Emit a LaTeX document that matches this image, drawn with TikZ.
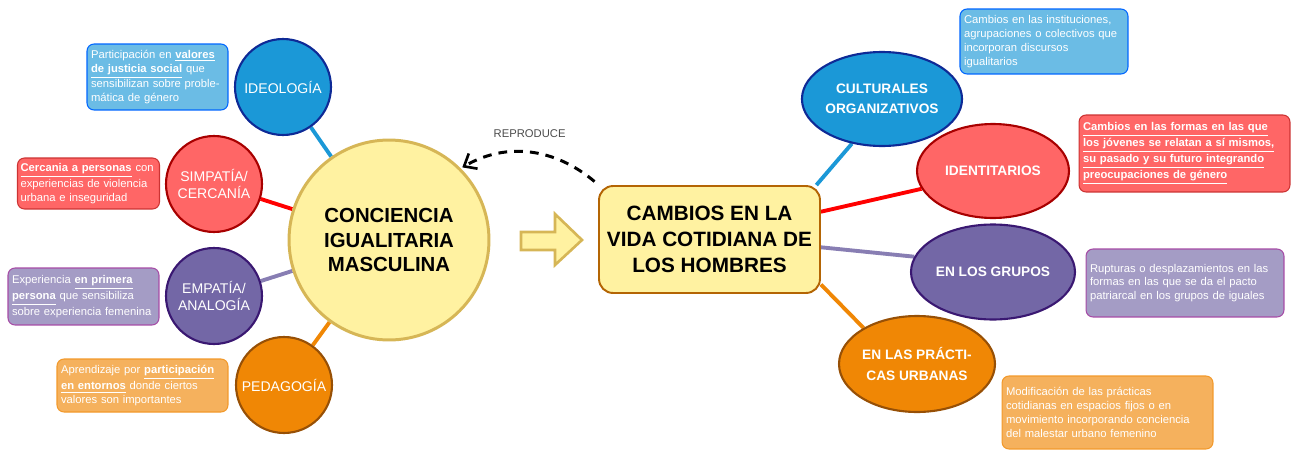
\documentclass[tikz,border=0pt]{standalone}
\usepackage{fontspec}
\setmainfont{Liberation Sans}
\usepackage{tikz}
\usetikzlibrary{positioning, shapes.geometric, arrows.meta, backgrounds}
\definecolor{azul}{HTML}{1B98D7}
\definecolor{azulborde}{HTML}{0E2A96}
\definecolor{rojo}{HTML}{FF6666}
\definecolor{rojoborde}{HTML}{A80000}
\definecolor{morado}{HTML}{7367A6}
\definecolor{moradoborde}{HTML}{3A1872}
\definecolor{naranja}{HTML}{F08705}
\definecolor{naranjaborde}{HTML}{975006}
\definecolor{amarillo}{HTML}{FFF2A1}
\definecolor{amarilloborde}{HTML}{D6B656}
\definecolor{cafe}{HTML}{B46504}
\newcommand{\resalta}[1]{\underline{\textbf{#1}}}
\tikzset{
    base/.style={draw, align=center, inner sep=0pt},
    topic/.style={base, circle, line width=1.2pt, minimum size=1.92cm, text=white, font=\fontsize{8}{9.5}\selectfont},
    blob/.style={base, ellipse, line width=1.2pt, text=white, font=\fontsize{7.8}{11.6}\selectfont\bfseries},
    note/.style={draw, rectangle, rounded corners=4pt, line width=0.6pt, align=left, text=white, inner xsep=0.08cm, inner ysep=0pt, font=\fontsize{6.4}{7.9}\selectfont},
    link/.style={line width=2.2pt},
    dashedarrow/.style={-{Straight Barb[length=6pt, width=10pt, line width=1.5pt]}, line width=1.7pt, dash pattern=on 5pt off 4pt}
}
\begin{document}
\begin{tikzpicture}[x=0.02cm, y=-0.02cm]
    \useasboundingbox (0,0) rectangle (1292,450);

    % Central idea
    \node [base, circle, line width=1.7pt, fill=amarillo, draw=amarilloborde, minimum size=4cm, font=\fontsize{11.6}{14.2}\selectfont\bfseries] (conciencia) at (389,240) {CONCIENCIA\\IGUALITARIA\\MASCULINA};

    % Left circles
    \node [topic, fill=azul, draw=azulborde] (ideo) at (283,87) {IDEOLOGÍA};
    \node [topic, fill=rojo, draw=rojoborde] (simp) at (214,184) {SIMPATÍA/\\CERCANÍA};
    \node [topic, fill=morado, draw=moradoborde] (empa) at (214,296) {EMPATÍA/\\ANALOGÍA};
    \node [topic, fill=naranja, draw=naranjaborde] (peda) at (284,385) {PEDAGOGÍA};

    % Left notes
    \node [note, fill=azul!65, draw=blue!60!cyan, text width=2.66cm, minimum height=1.32cm] (nideo) at (157.5,77) {Participación en \resalta{valores}\\\resalta{de justicia social} que\\sensibilizan sobre proble-\\mática de género};
    \node [note, fill=rojo, draw=red!75!black!80, inner xsep=0.06cm, text width=2.72cm, minimum height=1.02cm] (nsimp) at (88.5,183.5) {\resalta{Cercania a personas}~con\\experiencias de violencia\\urbana e inseguridad};
    \node [note, fill=morado!65, draw=violet!70, text width=2.86cm, minimum height=1.14cm] (nempa) at (83.5,296.5) {Experiencia \resalta{en primera}\\\resalta{persona} que sensibiliza\\sobre experiencia femenina};
    \node [note, fill=naranja!65, draw=naranja!85, text width=3.26cm, minimum height=1.06cm] (npeda) at (142.5,385.5) {Aprendizaje por \resalta{participación}\\\resalta{en entornos} donde ciertos\\valores son importantes};

    % Changes box
    \node [base, rectangle, rounded corners=8pt, line width=1.1pt, fill=amarillo, draw=cafe, minimum width=4.42cm, minimum height=2.14cm, font=\fontsize{11.8}{15}\selectfont\bfseries] (cambios) at (709.5,239.5) {CAMBIOS EN LA\\VIDA COTIDIANA DE\\LOS HOMBRES};

    % Right ellipses
    \node [blob, fill=azul, draw=azulborde, minimum width=3.12cm, minimum height=1.88cm] (cult) at (882,99) {CULTURALES\\ORGANIZATIVOS};
    \node [blob, fill=rojo, draw=rojoborde, minimum width=3.04cm, minimum height=1.88cm] (iden) at (993,171) {IDENTITARIOS};
    \node [blob, fill=morado, draw=moradoborde, minimum width=3.28cm, minimum height=1.9cm] (grup) at (993,272) {EN LOS GRUPOS};
    \node [blob, fill=naranja, draw=naranjaborde, minimum width=3.12cm, minimum height=1.92cm] (prac) at (917,364) {EN LAS PRÁCTI-\\CAS URBANAS};

    % Right notes
    \node [note, fill=azul!65, draw=blue!60!cyan, text width=3.2cm, minimum height=1.3cm] (ncult) at (1044,41.5) {Cambios en las instituciones,\\agrupaciones o colectivos que\\incorporan discursos\\igualitarios};
    \node [note, fill=rojo, draw=red!75!black!80, text width=4.06cm, minimum height=1.54cm] (niden) at (1184.5,153.5) {\resalta{Cambios en las formas en las que}\\\resalta{los jóvenes se relatan a sí mismos,}\\\resalta{su pasado y su futuro integrando}\\\resalta{preocupaciones de género}};
    \node [note, fill=morado!65, draw=violet!70, text width=3.8cm, minimum height=1.36cm] (ngrup) at (1185,283) {Rupturas o desplazamientos en las\\formas en las que se da el pacto\\patriarcal en los grupos de iguales};
    \node [note, fill=naranja!65, draw=naranja!85, text width=4.06cm, minimum height=1.46cm] (nprac) at (1107.5,412.5) {Modificación de las prácticas\\cotidianas en espacios fijos o en\\movimiento incorporando conciencia\\del malestar urbano femenino};

    % Block arrow
    \draw [line width=1.5pt, draw=amarilloborde, fill=amarillo] (521,232) -- (555,232) -- (555,214) -- (582,240) -- (555,265) -- (555,250) -- (521,250) -- cycle;

    % Connections
    \begin{scope}[on background layer]
        \draw [link, azul] (ideo) -- (conciencia);
        \draw [link, red] (simp) -- (conciencia);
        \draw [link, morado!85] (empa) -- (conciencia);
        \draw [link, naranja] (peda) -- (conciencia);
        \draw [link, azul] (cambios.27) -- (cult.236);
        \draw [link, red] (cambios.14) -- (iden.194);
        \draw [link, morado!85] (cambios.356) -- (grup.169);
        \draw [link, naranja] (cambios.338) -- (prac.146);
    \end{scope}
    \draw [dashedarrow, shorten >=1pt] ([xshift=-2pt, yshift=2pt]cambios.north west) to[out=140, in=30] node[above=4pt, text=black!70, font=\fontsize{6.4}{7.5}\selectfont] {REPRODUCE} (conciencia.45);
\end{tikzpicture}
\end{document}
